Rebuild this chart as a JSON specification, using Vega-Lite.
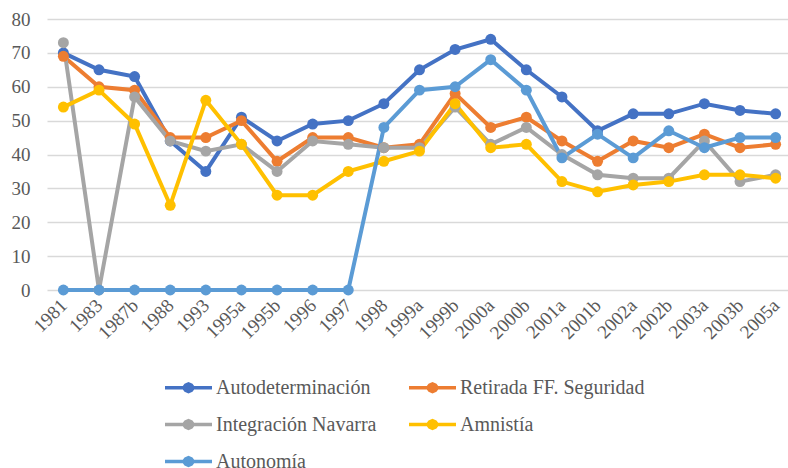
{
  "$schema": "https://vega.github.io/schema/vega-lite/v6.json",
  "autosize": "none",
  "width": 745,
  "height": 271,
  "padding": {"left": 47, "top": 19, "right": 0, "bottom": 178},
  "background": "white",
  "config": {"view": {"stroke": null}, "font": "Liberation Serif, Times New Roman, DejaVu Serif, serif"},
  "data": {"values": [
    {"periodo": "1981", "serie": "Autodeterminación", "valor": 70},
    {"periodo": "1983", "serie": "Autodeterminación", "valor": 65},
    {"periodo": "1987b", "serie": "Autodeterminación", "valor": 63},
    {"periodo": "1988", "serie": "Autodeterminación", "valor": 44},
    {"periodo": "1993", "serie": "Autodeterminación", "valor": 35},
    {"periodo": "1995a", "serie": "Autodeterminación", "valor": 51},
    {"periodo": "1995b", "serie": "Autodeterminación", "valor": 44},
    {"periodo": "1996", "serie": "Autodeterminación", "valor": 49},
    {"periodo": "1997", "serie": "Autodeterminación", "valor": 50},
    {"periodo": "1998", "serie": "Autodeterminación", "valor": 55},
    {"periodo": "1999a", "serie": "Autodeterminación", "valor": 65},
    {"periodo": "1999b", "serie": "Autodeterminación", "valor": 71},
    {"periodo": "2000a", "serie": "Autodeterminación", "valor": 74},
    {"periodo": "2000b", "serie": "Autodeterminación", "valor": 65},
    {"periodo": "2001a", "serie": "Autodeterminación", "valor": 57},
    {"periodo": "2001b", "serie": "Autodeterminación", "valor": 47},
    {"periodo": "2002a", "serie": "Autodeterminación", "valor": 52},
    {"periodo": "2002b", "serie": "Autodeterminación", "valor": 52},
    {"periodo": "2003a", "serie": "Autodeterminación", "valor": 55},
    {"periodo": "2003b", "serie": "Autodeterminación", "valor": 53},
    {"periodo": "2005a", "serie": "Autodeterminación", "valor": 52},
    {"periodo": "1981", "serie": "Retirada FF. Seguridad", "valor": 69},
    {"periodo": "1983", "serie": "Retirada FF. Seguridad", "valor": 60},
    {"periodo": "1987b", "serie": "Retirada FF. Seguridad", "valor": 59},
    {"periodo": "1988", "serie": "Retirada FF. Seguridad", "valor": 45},
    {"periodo": "1993", "serie": "Retirada FF. Seguridad", "valor": 45},
    {"periodo": "1995a", "serie": "Retirada FF. Seguridad", "valor": 50},
    {"periodo": "1995b", "serie": "Retirada FF. Seguridad", "valor": 38},
    {"periodo": "1996", "serie": "Retirada FF. Seguridad", "valor": 45},
    {"periodo": "1997", "serie": "Retirada FF. Seguridad", "valor": 45},
    {"periodo": "1998", "serie": "Retirada FF. Seguridad", "valor": 42},
    {"periodo": "1999a", "serie": "Retirada FF. Seguridad", "valor": 43},
    {"periodo": "1999b", "serie": "Retirada FF. Seguridad", "valor": 58},
    {"periodo": "2000a", "serie": "Retirada FF. Seguridad", "valor": 48},
    {"periodo": "2000b", "serie": "Retirada FF. Seguridad", "valor": 51},
    {"periodo": "2001a", "serie": "Retirada FF. Seguridad", "valor": 44},
    {"periodo": "2001b", "serie": "Retirada FF. Seguridad", "valor": 38},
    {"periodo": "2002a", "serie": "Retirada FF. Seguridad", "valor": 44},
    {"periodo": "2002b", "serie": "Retirada FF. Seguridad", "valor": 42},
    {"periodo": "2003a", "serie": "Retirada FF. Seguridad", "valor": 46},
    {"periodo": "2003b", "serie": "Retirada FF. Seguridad", "valor": 42},
    {"periodo": "2005a", "serie": "Retirada FF. Seguridad", "valor": 43},
    {"periodo": "1981", "serie": "Integración Navarra", "valor": 73},
    {"periodo": "1983", "serie": "Integración Navarra", "valor": 0},
    {"periodo": "1987b", "serie": "Integración Navarra", "valor": 57},
    {"periodo": "1988", "serie": "Integración Navarra", "valor": 44},
    {"periodo": "1993", "serie": "Integración Navarra", "valor": 41},
    {"periodo": "1995a", "serie": "Integración Navarra", "valor": 43},
    {"periodo": "1995b", "serie": "Integración Navarra", "valor": 35},
    {"periodo": "1996", "serie": "Integración Navarra", "valor": 44},
    {"periodo": "1997", "serie": "Integración Navarra", "valor": 43},
    {"periodo": "1998", "serie": "Integración Navarra", "valor": 42},
    {"periodo": "1999a", "serie": "Integración Navarra", "valor": 42},
    {"periodo": "1999b", "serie": "Integración Navarra", "valor": 54},
    {"periodo": "2000a", "serie": "Integración Navarra", "valor": 43},
    {"periodo": "2000b", "serie": "Integración Navarra", "valor": 48},
    {"periodo": "2001a", "serie": "Integración Navarra", "valor": 40},
    {"periodo": "2001b", "serie": "Integración Navarra", "valor": 34},
    {"periodo": "2002a", "serie": "Integración Navarra", "valor": 33},
    {"periodo": "2002b", "serie": "Integración Navarra", "valor": 33},
    {"periodo": "2003a", "serie": "Integración Navarra", "valor": 44},
    {"periodo": "2003b", "serie": "Integración Navarra", "valor": 32},
    {"periodo": "2005a", "serie": "Integración Navarra", "valor": 34},
    {"periodo": "1981", "serie": "Amnistía", "valor": 54},
    {"periodo": "1983", "serie": "Amnistía", "valor": 59},
    {"periodo": "1987b", "serie": "Amnistía", "valor": 49},
    {"periodo": "1988", "serie": "Amnistía", "valor": 25},
    {"periodo": "1993", "serie": "Amnistía", "valor": 56},
    {"periodo": "1995a", "serie": "Amnistía", "valor": 43},
    {"periodo": "1995b", "serie": "Amnistía", "valor": 28},
    {"periodo": "1996", "serie": "Amnistía", "valor": 28},
    {"periodo": "1997", "serie": "Amnistía", "valor": 35},
    {"periodo": "1998", "serie": "Amnistía", "valor": 38},
    {"periodo": "1999a", "serie": "Amnistía", "valor": 41},
    {"periodo": "1999b", "serie": "Amnistía", "valor": 55},
    {"periodo": "2000a", "serie": "Amnistía", "valor": 42},
    {"periodo": "2000b", "serie": "Amnistía", "valor": 43},
    {"periodo": "2001a", "serie": "Amnistía", "valor": 32},
    {"periodo": "2001b", "serie": "Amnistía", "valor": 29},
    {"periodo": "2002a", "serie": "Amnistía", "valor": 31},
    {"periodo": "2002b", "serie": "Amnistía", "valor": 32},
    {"periodo": "2003a", "serie": "Amnistía", "valor": 34},
    {"periodo": "2003b", "serie": "Amnistía", "valor": 34},
    {"periodo": "2005a", "serie": "Amnistía", "valor": 33},
    {"periodo": "1981", "serie": "Autonomía", "valor": 0},
    {"periodo": "1983", "serie": "Autonomía", "valor": 0},
    {"periodo": "1987b", "serie": "Autonomía", "valor": 0},
    {"periodo": "1988", "serie": "Autonomía", "valor": 0},
    {"periodo": "1993", "serie": "Autonomía", "valor": 0},
    {"periodo": "1995a", "serie": "Autonomía", "valor": 0},
    {"periodo": "1995b", "serie": "Autonomía", "valor": 0},
    {"periodo": "1996", "serie": "Autonomía", "valor": 0},
    {"periodo": "1997", "serie": "Autonomía", "valor": 0},
    {"periodo": "1998", "serie": "Autonomía", "valor": 48},
    {"periodo": "1999a", "serie": "Autonomía", "valor": 59},
    {"periodo": "1999b", "serie": "Autonomía", "valor": 60},
    {"periodo": "2000a", "serie": "Autonomía", "valor": 68},
    {"periodo": "2000b", "serie": "Autonomía", "valor": 59},
    {"periodo": "2001a", "serie": "Autonomía", "valor": 39},
    {"periodo": "2001b", "serie": "Autonomía", "valor": 46},
    {"periodo": "2002a", "serie": "Autonomía", "valor": 39},
    {"periodo": "2002b", "serie": "Autonomía", "valor": 47},
    {"periodo": "2003a", "serie": "Autonomía", "valor": 42},
    {"periodo": "2003b", "serie": "Autonomía", "valor": 45},
    {"periodo": "2005a", "serie": "Autonomía", "valor": 45}
  ]},
  "encoding": {
    "x": {
      "field": "periodo", "type": "ordinal", "sort": null,
      "scale": {"type": "point", "padding": 0.46},
      "axis": {"title": null, "labelAngle": -45, "labelAlign": "right", "labelBaseline": "middle",
               "labelFontSize": 19, "labelColor": "#595959",
               "ticks": false, "domain": false, "grid": false, "labelPadding": 12}
    },
    "y": {
      "field": "valor", "type": "quantitative",
      "scale": {"domain": [0, 80]},
      "axis": {"title": null, "values": [0, 10, 20, 30, 40, 50, 60, 70, 80], "ticks": false, "domain": false,
               "grid": true, "gridColor": "#d9d9d9", "gridWidth": 1.5,
               "labelFontSize": 19, "labelColor": "#595959", "labelPadding": 17}
    },
    "color": {"field": "serie", "type": "nominal",
      "scale": {"domain": ["Autodeterminación", "Retirada FF. Seguridad", "Integración Navarra", "Amnistía", "Autonomía"],
                "range": ["#4472C4", "#ED7D31", "#A5A5A5", "#FFC000", "#5B9BD5"]},
      "legend": {"orient": "none", "legendX": 118, "legendY": 345, "direction": "horizontal", "columns": 2, "title": null,
                 "symbolType": "M-1,-0.075L-0.24,-0.075L-0.17,-0.17L0,-0.24L0.17,-0.17L0.24,-0.075L1,-0.075L1,0.075L0.24,0.075L0.17,0.17L0,0.24L-0.17,0.17L-0.24,0.075L-1,0.075Z",
                 "symbolSize": 2209, "symbolStrokeWidth": 0, "symbolOpacity": 1,
                 "labelFontSize": 20, "labelColor": "#595959",
                 "rowPadding": 3, "columnPadding": 32, "labelLimit": 400}
    }
  },
  "layer": [
    {"mark": {"type": "line", "strokeWidth": 4}},
    {"mark": {"type": "point", "filled": true, "size": 120, "opacity": 1}}
  ]
}
